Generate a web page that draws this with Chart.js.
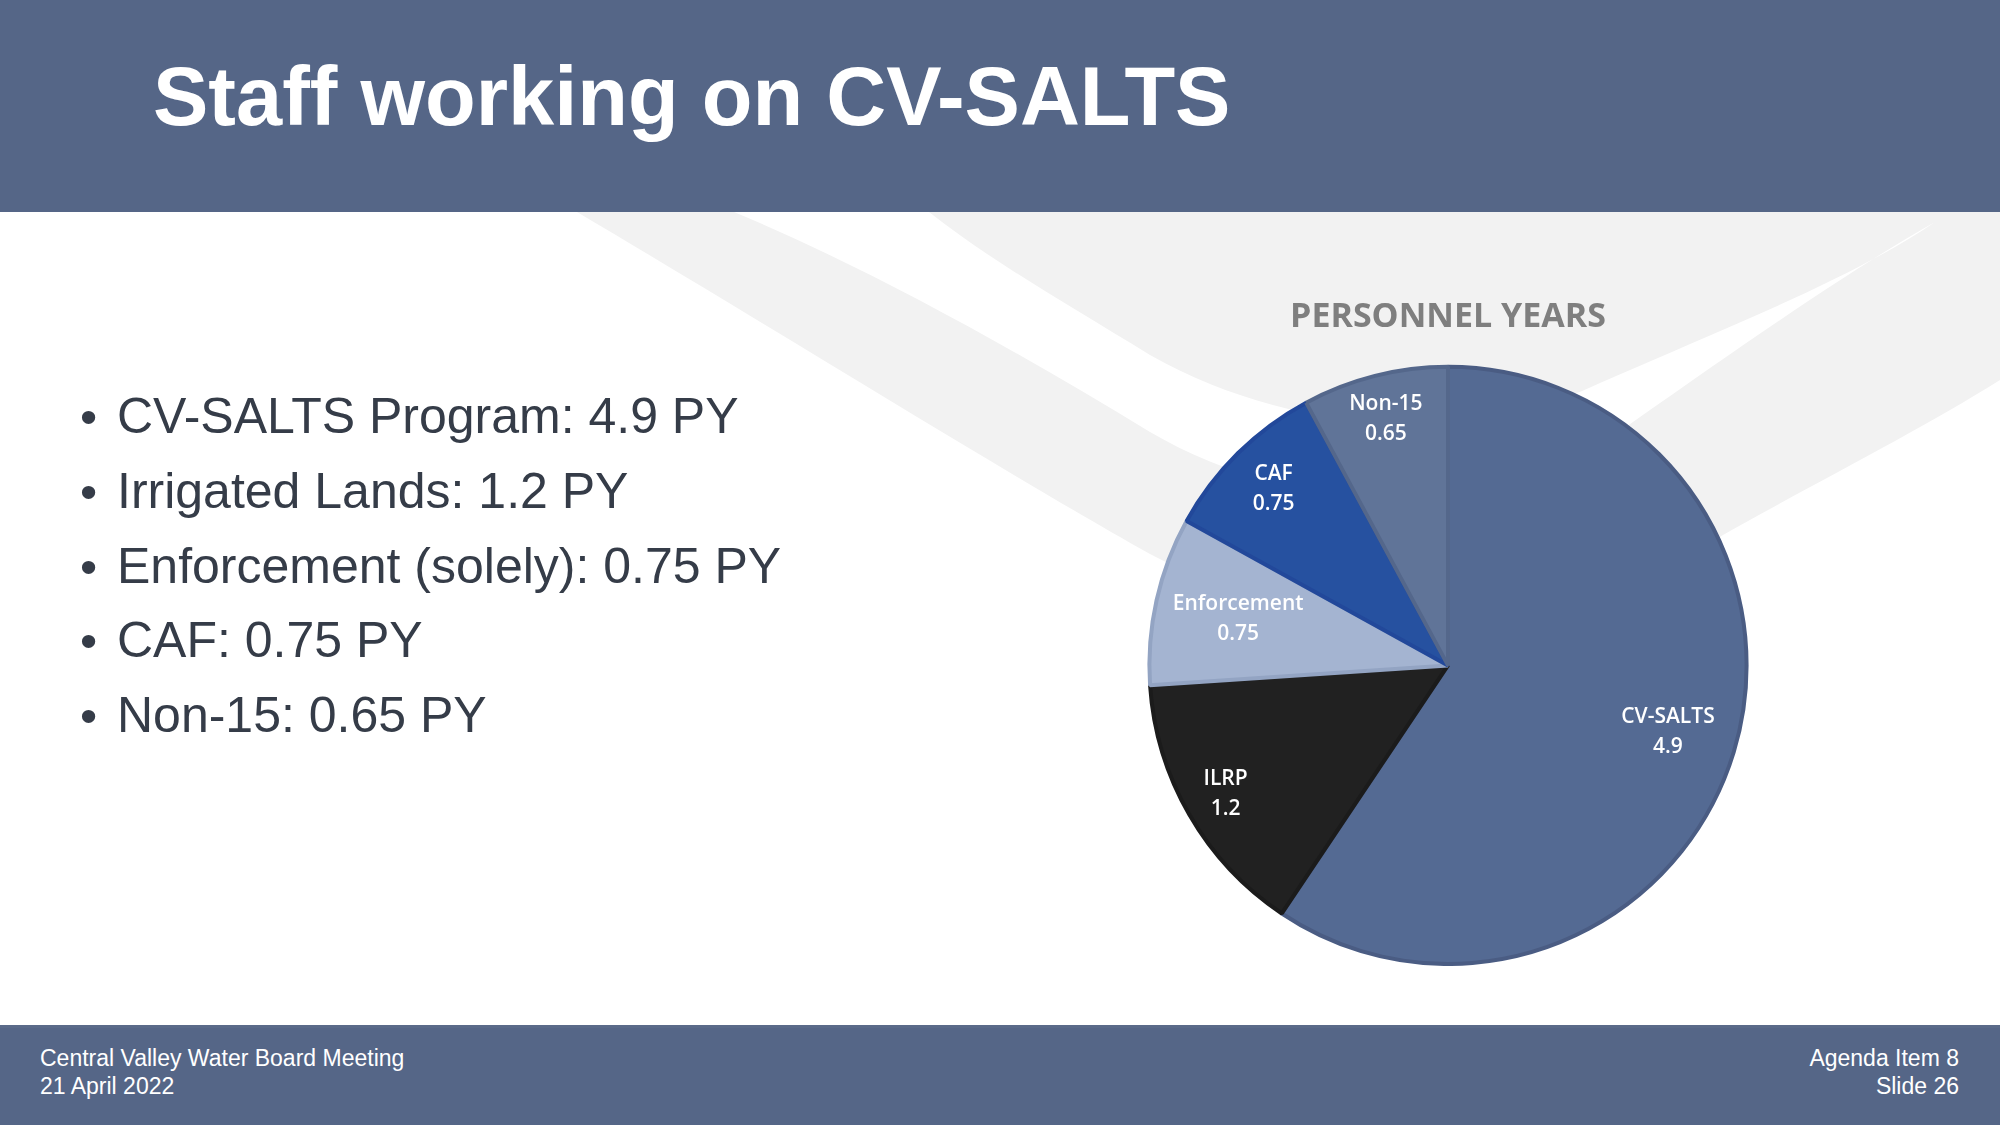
<!DOCTYPE html>
<html>
<head>
<meta charset="utf-8">
<title>Staff working on CV-SALTS</title>
<script src="https://cdn.jsdelivr.net/npm/chart.js@4.4.1/dist/chart.umd.min.js"></script>
<style>
  html, body { margin: 0; padding: 0; }
  body {
    width: 2000px; height: 1125px; position: relative; overflow: hidden;
    background: #fff; font-family: "Liberation Sans", Arial, sans-serif;
  }
  #swoosh { position: absolute; left: 0; top: 0; }
  .band { position: absolute; left: 0; width: 2000px; background: #556687; }
  #header { top: 0; height: 212px; }
  #footer { top: 1025px; height: 100px; border-top: 3px solid #5a6a89; box-sizing: border-box; }
  h1 {
    position: absolute; left: 153px; top: 55px; margin: 0;
    font: bold 83px/83px "Liberation Sans", Arial, sans-serif; color: #fff; white-space: nowrap;
  }
  #bullets {
    position: absolute; left: 0; top: 379px; margin: 0; padding: 0; list-style: none;
    font-size: 50px; line-height: 74.8px; color: #353c48;
  }
  #bullets li { position: relative; padding-left: 117px; white-space: nowrap; }
  #bullets li::before { content: "\2022"; position: absolute; left: 80px; font-size: 49px; }
  .foot {
    position: absolute; top: 1044px; font-size: 23px; line-height: 28.3px; color: #fff; white-space: nowrap;
  }
  #footLeft { left: 40px; }
  #footRight { right: 41px; text-align: right; }
  #chartBox { position: absolute; left: 1098px; top: 297px; width: 700px; height: 669px; }
</style>
</head>
<body>
<svg id="swoosh" width="2000" height="1125" viewBox="0 0 2000 1125">
  <path fill="#f2f2f2" d="M 577 212 C 760 320, 1000 470, 1150 554 C 1330 650, 1550 640, 1723 535 C 1830 475, 1920 430, 2000 380 L 2000 212 Z"/>
  <path fill="#ffffff" d="M 734 212 C 850 260, 1000 340, 1150 432 C 1300 520, 1500 520, 1633 422 C 1750 340, 1850 270, 1935 222 C 1850 280, 1720 330, 1600 383 C 1480 440, 1300 440, 1150 355 C 1060 300, 990 260, 929 212 Z"/>
</svg>

<div id="header" class="band"></div>
<h1>Staff working on CV-SALTS</h1>

<ul id="bullets">
  <li>CV-SALTS Program: 4.9 PY</li>
  <li>Irrigated Lands: 1.2 PY</li>
  <li>Enforcement (solely): 0.75 PY</li>
  <li>CAF: 0.75 PY</li>
  <li>Non-15: 0.65 PY</li>
</ul>

<div id="chartBox"><canvas id="pyChart"></canvas></div>

<div id="footer" class="band"></div>
<div id="footLeft" class="foot">Central Valley Water Board Meeting<br>21 April 2022</div>
<div id="footRight" class="foot">Agenda Item 8<br>Slide 26</div>

<script>
// Personnel years per program
const categories = ['CV-SALTS', 'ILRP', 'Enforcement', 'CAF', 'Non-15'];
const personnelYears = [4.9, 1.2, 0.75, 0.75, 0.65];

const sliceColors = ['#546a93', '#212121', '#a4b4d1', '#2651a0', '#607498'];
const sliceBorders = ['#4a5c83', '#1b1b1b', '#93a4c3', '#22489a', '#54678b'];

// draws "name / value" inside each slice, like the Excel data labels
const sliceLabels = {
    id: 'sliceLabels',
    afterDatasetsDraw(chart, args, opts) {
        const ctx = chart.ctx;
        const meta = chart.getDatasetMeta(0);
        const values = chart.data.datasets[0].data;
        ctx.save();
        ctx.font = opts.font;
        ctx.fillStyle = opts.color;
        ctx.textAlign = 'center';
        ctx.textBaseline = 'middle';
        meta.data.forEach((arc, i) => {
            const p = arc.getProps(['x', 'y', 'startAngle', 'endAngle', 'outerRadius'], true);
            const mid = (p.startAngle + p.endAngle) / 2;
            const r = p.outerRadius * opts.radius[i];
            const cx = p.x + Math.cos(mid) * r;
            const cy = p.y + Math.sin(mid) * r;
            ctx.fillText(chart.data.labels[i], cx, cy - opts.lineGap / 2);
            ctx.fillText(String(values[i]), cx, cy + opts.lineGap / 2);
        });
        ctx.restore();
    }
};

const ctx = document.getElementById('pyChart').getContext('2d');
const pyChart = new Chart(ctx, {
    type: 'pie',
    data: {
        labels: categories,
        datasets: [{
            data: personnelYears,
            backgroundColor: sliceColors,
            borderColor: sliceBorders,
            borderWidth: 4,
            hoverOffset: 0,
            hoverBorderWidth: 4
        }]
    },
    options: {
        responsive: true,
        maintainAspectRatio: false,
        animation: false,
        layout: { padding: 0 },
        plugins: {
            legend: { display: false },
            tooltip: { enabled: false },
            title: {
                display: true,
                text: 'PERSONNEL YEARS',
                color: '#7f7f7f',
                font: { family: 'Open Sans', size: 34, weight: 'bold', lineHeight: 1.2 },
                padding: { top: 0, bottom: 27 }
            },
            sliceLabels: {
                font: '600 21px "Open Sans"',
                color: '#ffffff',
                lineGap: 30,
                radius: [0.77, 0.86, 0.72, 0.83, 0.85]
            }
        }
    },
    plugins: [sliceLabels]
});
</script>
</body>
</html>
